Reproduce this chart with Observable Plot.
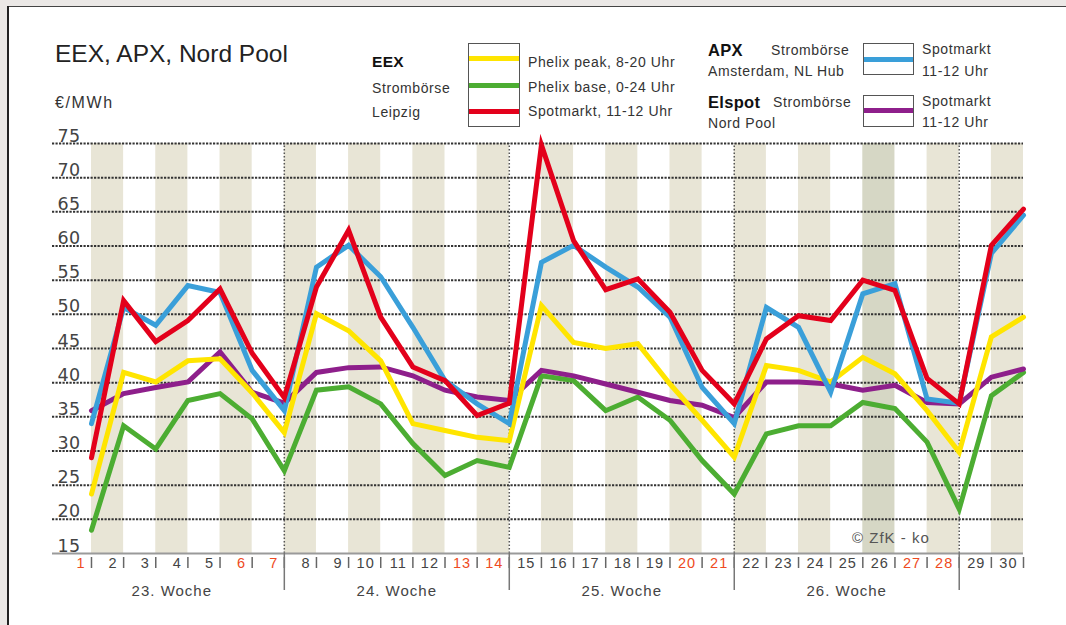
<!DOCTYPE html>
<html><head><meta charset="utf-8">
<script src="https://cdn.jsdelivr.net/npm/d3@7"></script>
<script src="https://cdn.jsdelivr.net/npm/@observablehq/plot@0.6"></script>
<style>
body{margin:0;background:#fff;font-family:"Liberation Sans",Arial,sans-serif;}
#wrap{position:relative;width:1066px;height:625px;overflow:hidden;background:#fff;}
#chart{position:absolute;left:0;top:0;}
.strip{position:absolute;background:#ebe8e6;}
.t{position:absolute;white-space:nowrap;color:#333;line-height:1;font-size:14px;letter-spacing:0.6px;}
.b{font-weight:bold;color:#111;font-size:15.5px;letter-spacing:0.3px;}
.box{position:absolute;border:1px solid #555;background:#fff;box-sizing:border-box;}
.ln{position:absolute;left:0;right:0;height:5px;}
#chart svg text{letter-spacing:1px;}
#chart svg g[aria-description="ylab"] text{letter-spacing:0.3px;}
</style></head><body>
<div id="wrap">
  <div id="chart"></div>
  <div class="strip" style="left:0;top:0;width:1066px;height:6px;"></div>
  <div class="strip" style="left:0;top:0;width:7px;height:625px;"></div>
  <div style="position:absolute;left:7px;top:6px;width:1059px;height:1px;background:#444;"></div>
  <div style="position:absolute;left:7px;top:6px;width:2px;height:619px;background:#222;"></div>
  <div id="legend"></div>
</div>
<script>
// ---- data ----
const days = [1,2,3,4,5,6,7,8,9,10,11,12,13,14,15,16,17,18,19,20,21,22,23,24,25,26,27,28,29,30];
const redDays = [1,6,7,13,14,20,21,27,28];
const weeks = ["23. Woche","24. Woche","25. Woche","26. Woche"];
const weekFirstDay = [1,8,15,22];
const weekLastDay = [7,14,21,28];
const yTicks = [15,20,25,30,35,40,45,50,55,60,65,70,75];
const shadedDays = [1,3,5,7,9,11,13,15,17,19,21,23,25,27,29];
const darkShadedDay = 25;

const phelixBase = [18.4,33.7,30.3,37.4,38.4,34.7,27.1,38.9,39.4,36.9,31.1,26.4,28.6,27.6,41.0,40.3,35.9,37.9,34.5,28.6,23.7,32.5,33.7,33.7,37.1,36.2,31.3,21.5,38.1,41.5];
const elspotSpot = [35.9,38.4,39.3,40.1,44.5,38.6,37.0,41.5,42.2,42.3,41.0,38.9,37.9,37.4,41.8,41.0,39.8,38.6,37.4,36.7,34.9,40.1,40.1,39.8,38.9,39.6,37.1,36.9,40.8,42.0];
const phelixPeak = [23.7,41.5,40.1,43.2,43.5,38.5,32.7,50.1,47.6,43.2,34.0,33.0,32.0,31.5,51.3,45.9,45.0,45.7,39.8,34.5,29.1,42.5,41.8,40.1,43.7,41.3,35.9,29.8,46.7,49.6];
const apxSpot = [34.0,51.0,48.4,54.2,53.2,41.8,35.9,56.9,60.1,55.5,48.1,40.3,36.9,34.0,57.6,60.1,56.9,54.0,49.6,39.3,34.0,51.0,48.1,38.6,53.0,54.5,37.6,37.0,58.9,64.5];
const eexSpot = [29.0,52.0,46.0,49.1,53.7,44.3,37.8,54.0,62.3,49.6,42.3,40.3,35.2,37.0,74.8,60.8,53.6,55.2,50.3,41.8,36.9,46.4,49.8,49.1,55.0,53.5,40.6,36.9,60.1,65.4];

const seriesNames = ["Phelix base","Elspot","Phelix peak","APX","EEX Spot"];
const seriesValues = [phelixBase, elspotSpot, phelixPeak, apxSpot, eexSpot];

// ---- styles ----
const colors = {"Phelix base":"#4cad32","Elspot":"#8e1f8b","Phelix peak":"#ffe500","APX":"#3a9fd9","EEX Spot":"#e3001b"};
const W = 1066, H = 625, mT = 143, mB = 72, mL = 52, mR = 43;
const pxPerUnit = (H - mT - mB) / (75 - 15);
const below = px => 15 - px / pxPerUnit;

const table = seriesNames.flatMap((s, i) => days.map((d, j) => ({series: s, day: d, value: seriesValues[i][j]})));

const marks = [
  Plot.rect(shadedDays, {x1: d => d, x2: d => d + 1, y1: 15, y2: 75,
    fill: d => d === darkShadedDay ? "#d6d7c5" : "#e8e5d6"}),
  Plot.ruleY(yTicks.filter(v => v > 15), {stroke: "#333", strokeWidth: 2, strokeDasharray: "2.2,1.3"}),
  Plot.ruleX(weekLastDay, {y1: 15, y2: 75, stroke: "#555", strokeWidth: 1.5, strokeDasharray: "1.5,2"}),
  Plot.ruleY([15], {stroke: "#9a9a9a", strokeWidth: 2}),
  Plot.ruleX(days, {y1: below(4), y2: below(15), stroke: "#666", strokeWidth: 1.5}),
  Plot.ruleX(weekLastDay, {y1: 15, y2: below(37), stroke: "#777", strokeWidth: 1.5}),
  Plot.text(days, {x: d => d, y: 15, dx: -6, dy: 10, text: d => String(d), textAnchor: "end",
    fill: d => redDays.includes(d) ? "#ee4a22" : "#444", fontSize: 14.5}),
  Plot.text(weeks, {x: (w, i) => (weekFirstDay[i] - 1 + weekLastDay[i]) / 2, y: 15, dy: 38, text: w => w,
    fill: "#444", fontSize: 15}),
  Plot.text(yTicks, {frameAnchor: "left", y: v => v, dx: 5, dy: -2, lineAnchor: "bottom", textAnchor: "start",
    text: v => String(v), fill: "#444", fontSize: 17.5, fontFamily: "'DejaVu Sans', sans-serif", ariaDescription: "ylab"}),
  ...seriesNames.map(s => Plot.line(table.filter(d => d.series === s), {
    x: "day", y: "value", stroke: colors[s], strokeWidth: 5, strokeLinejoin: "miter", strokeMiterlimit: 6
  }))
];

const chart = Plot.plot({
  width: W, height: H, marginTop: mT, marginBottom: mB, marginLeft: mL, marginRight: mR,
  x: {domain: [-0.213, 30], axis: null},
  y: {domain: [15, 75], axis: null},
  color: {type: "identity"},
  style: {background: "transparent", fontFamily: "'Liberation Sans', Arial, sans-serif", overflow: "visible"},
  marks
});
document.getElementById("chart").appendChild(chart);

// ---- title and legend ----
const leg = document.getElementById("legend");
function label(txt, x, cy, cls, fs, extra) {
  const el = document.createElement("div");
  el.className = "t " + (cls || "");
  if (fs) el.style.fontSize = fs + "px";
  el.style.left = x + "px";
  const f = fs || (cls === "b" ? 15.5 : 14);
  el.style.top = (cy - f * 0.49) + "px";
  el.textContent = txt;
  if (extra) Object.assign(el.style, extra);
  leg.appendChild(el);
}
function box(x, y, w, h, lines) {
  const el = document.createElement("div");
  el.className = "box";
  Object.assign(el.style, {left: x + "px", top: y + "px", width: w + "px", height: h + "px"});
  lines.forEach(([c, cy]) => {
    const l = document.createElement("div");
    l.className = "ln";
    l.style.background = c;
    l.style.top = (cy - y - 3.5) + "px";
    el.appendChild(l);
  });
  leg.appendChild(el);
}
label("EEX, APX, Nord Pool", 55, 54, "", 24.5, {color: "#222", letterSpacing: "0px"});
label("€/MWh", 55, 102.5, "", 16, {letterSpacing: "1.6px", color: "#333"});

label("EEX", 372, 61.7, "b");
label("Strombörse", 372, 87.5);
label("Leipzig", 372, 112);
box(468, 43, 52, 84, [[colors["Phelix peak"], 58.5], [colors["Phelix base"], 85], [colors["EEX Spot"], 111]]);
label("Phelix peak, 8-20 Uhr", 528, 61.7);
label("Phelix base, 0-24 Uhr", 528, 86.5);
label("Spotmarkt, 11-12 Uhr", 528, 111);

label("APX", 708, 50, "b", 16.5);
label("Strombörse", 771, 50);
label("Amsterdam, NL Hub", 708, 70.7);
box(863, 43, 51, 32, [[colors["APX"], 59]]);
label("Spotmarkt", 922, 48.5);
label("11-12 Uhr", 922, 70.7);

label("Elspot", 708, 101.7, "b", 16.5);
label("Strombörse", 773, 101.7);
label("Nord Pool", 708, 122.7);
box(863, 95, 51, 32, [[colors["Elspot"], 110.7]]);
label("Spotmarkt", 922, 100.7);
label("11-12 Uhr", 922, 121.7);

label("© ZfK - ko", 852, 537, "", 15, {color: "#555", letterSpacing: "1px"});
</script>
</body></html>
